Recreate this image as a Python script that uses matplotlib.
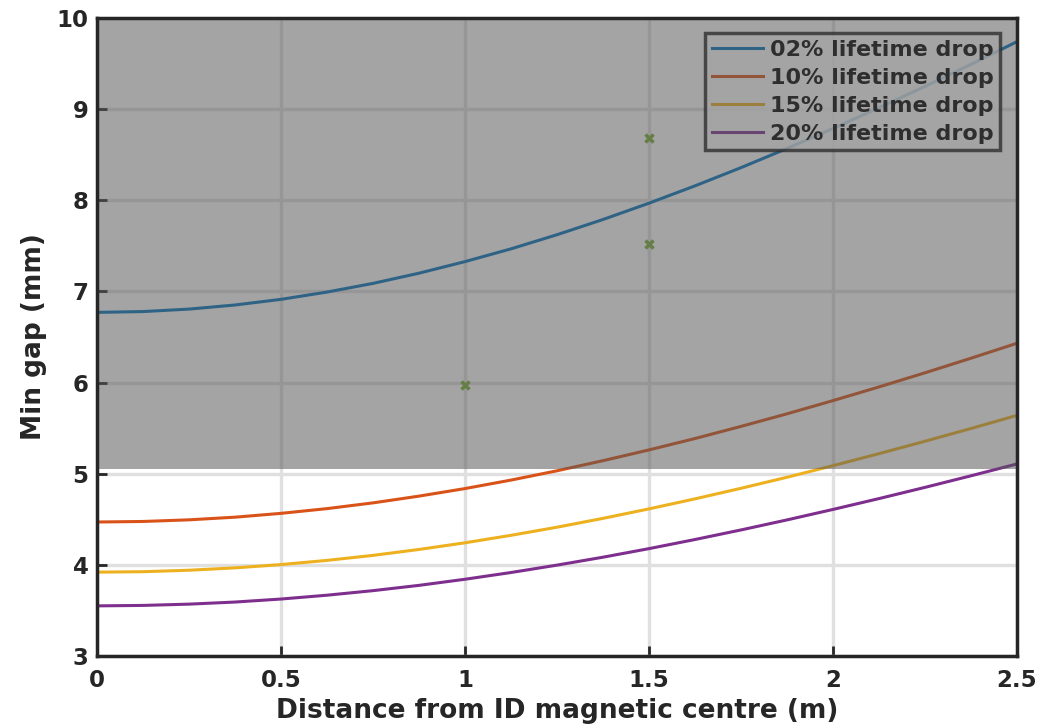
import matplotlib
matplotlib.use("Agg")
import matplotlib.pyplot as plt
import numpy as np

# distance from ID magnetic centre (m)
dist = [0.0, 0.125, 0.25, 0.375, 0.5, 0.625, 0.75, 0.875, 1.0, 1.125, 1.25,
        1.375, 1.5, 1.625, 1.75, 1.875, 2.0, 2.125, 2.25, 2.375, 2.5]

# minimum gap (mm) for each lifetime drop
gap_02 = [6.770, 6.779, 6.806, 6.851, 6.913, 6.993, 7.088, 7.200, 7.327, 7.467, 7.622,
          7.789, 7.968, 8.158, 8.358, 8.568, 8.787, 9.015, 9.249, 9.491, 9.740]
gap_10 = [4.470, 4.476, 4.494, 4.523, 4.565, 4.617, 4.680, 4.754, 4.837, 4.930, 5.032,
          5.143, 5.261, 5.386, 5.519, 5.657, 5.802, 5.952, 6.107, 6.267, 6.431]
gap_15 = [3.920, 3.925, 3.941, 3.967, 4.003, 4.049, 4.104, 4.169, 4.242, 4.324, 4.413,
          4.510, 4.614, 4.724, 4.840, 4.961, 5.088, 5.220, 5.356, 5.496, 5.640]
gap_20 = [3.550, 3.555, 3.569, 3.592, 3.625, 3.667, 3.717, 3.775, 3.842, 3.916, 3.997,
          4.084, 4.178, 4.278, 4.383, 4.493, 4.608, 4.727, 4.850, 4.977, 5.107]

labels = ["02% lifetime drop", "10% lifetime drop",
          "15% lifetime drop", "20% lifetime drop"]

# existing installed IDs
id_pos = [1.0, 1.5, 1.5]
id_gap = [5.97, 7.52, 8.68]

gap_limit = 5.05

plt.rcParams["font.family"] = "DejaVu Sans"
plt.rcParams["font.weight"] = "bold"

fig = plt.figure(figsize=(10.59, 7.28), dpi=100)
ax = fig.add_axes([0.0916, 0.0989, 0.8687, 0.8764])

colors = ["#0072BD", "#D95319", "#EDB120", "#7E2F8E"]
for g, c, lab in zip([gap_02, gap_10, gap_15, gap_20], colors, labels):
    ax.plot(dist, g, color=c, lw=2.2, label=lab, zorder=3)

ax.plot(id_pos, id_gap, "x", color="#77AC30", ms=6, mew=2.5, zorder=3)

ax.set_xlim(0, 2.5)
ax.set_ylim(3, 10)
ax.set_xticks([0, 0.5, 1, 1.5, 2, 2.5])
ax.set_xticklabels(["0", "0.5", "1", "1.5", "2", "2.5"])
ax.set_yticks(range(3, 11))

ax.grid(True, color="#e0e0e0", lw=2.4, zorder=0)
ax.set_axisbelow(True)

ax.tick_params(direction="in", length=7, width=2, color="#262626",
               labelsize=16.5, labelcolor="#262626", pad=6,
               top=False, right=False)
ax.tick_params(axis="x", pad=9)
for s in ax.spines.values():
    s.set_linewidth(2.5)
    s.set_color("#262626")
    s.set_zorder(10)

ax.set_xlabel("Distance from ID magnetic centre (m)", fontsize=19,
              fontweight="bold", color="#262626", labelpad=5)
ax.set_ylabel("Min gap (mm)", fontsize=19, fontweight="bold",
              color="#262626", labelpad=7)

leg = ax.legend(loc="upper right", bbox_to_anchor=(0.9815, 0.9765),
                fontsize=16, frameon=True, fancybox=False, handlelength=2.3,
                handletextpad=0.3, borderpad=0.3, labelspacing=0.36,
                borderaxespad=0)
leg.get_frame().set_edgecolor("black")
leg.get_frame().set_linewidth(2.5)
leg.get_frame().set_facecolor("white")
for t in leg.get_texts():
    t.set_color("black")
leg.set_zorder(5)

# shaded region above the gap limit
ax.axhspan(gap_limit, 10, color="#575757", alpha=0.54, lw=0, zorder=6)

fig.savefig("out.png", dpi=100)
